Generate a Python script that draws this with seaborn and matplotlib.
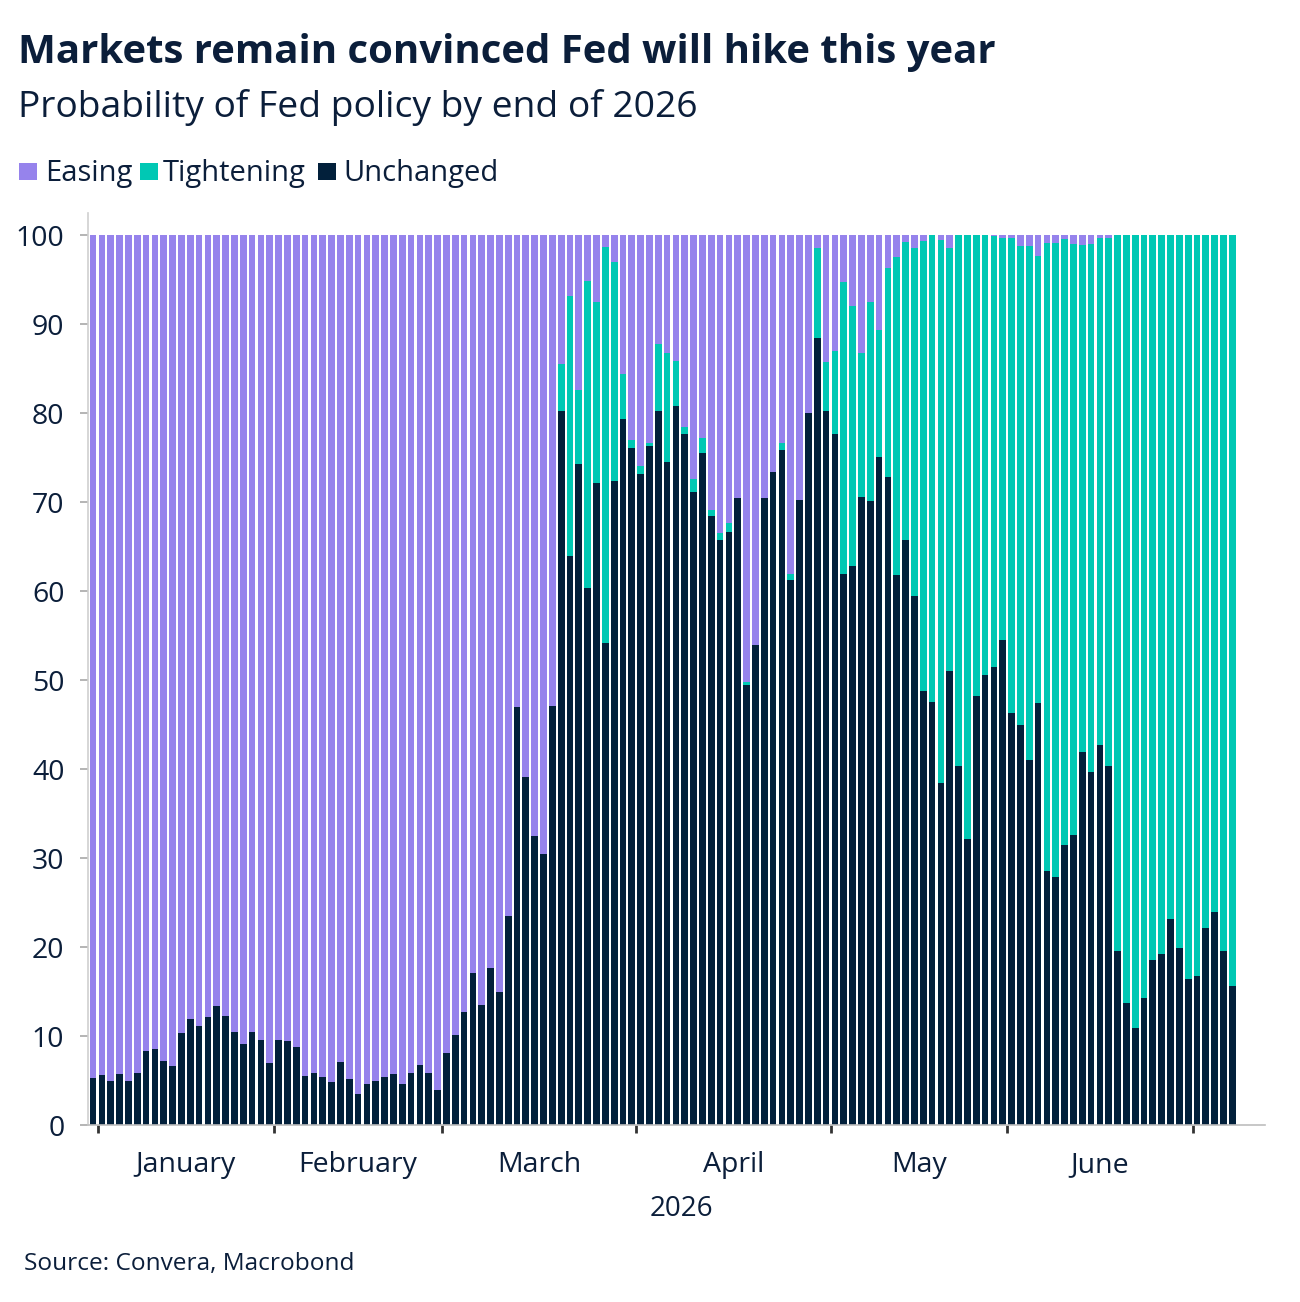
import numpy as np
import pandas as pd
import matplotlib
matplotlib.use("Agg")
import matplotlib.pyplot as plt
from matplotlib.patches import Rectangle
import seaborn as sns

# ---------------- data ----------------
unchanged = [
    5.3, 5.6, 4.9, 5.7, 5.0, 5.8, 8.3, 8.5, 7.2, 6.6,
    10.3, 11.9, 11.1, 12.1, 13.4, 12.3, 10.5, 9.1, 10.5, 9.5,
    7.0, 9.5, 9.4, 8.8, 5.5, 5.9, 5.4, 4.8, 7.1, 5.2,
    3.5, 4.6, 5.0, 5.4, 5.7, 4.6, 5.9, 6.7, 5.9, 3.9,
    8.1, 10.1, 12.7, 17.1, 13.5, 17.6, 14.9, 23.5, 47.0, 39.1,
    32.5, 30.5, 47.1, 80.3, 64.0, 74.3, 60.3, 72.2, 54.2, 72.4,
    79.4, 76.1, 73.2, 76.3, 80.2, 74.5, 80.8, 77.7, 71.1, 75.5,
    68.4, 65.8, 66.6, 70.5, 49.4, 53.9, 70.5, 73.4, 75.9, 61.2,
    70.2, 80.0, 88.5, 80.3, 77.7, 61.9, 62.8, 70.6, 70.1, 75.1,
    72.8, 61.8, 65.7, 59.5, 48.8, 47.5, 38.4, 51.0, 40.3, 32.1,
    48.2, 50.6, 51.5, 54.5, 46.3, 44.9, 41.0, 47.4, 28.5, 27.9,
    31.5, 32.6, 41.9, 39.7, 42.7, 40.3, 19.6, 13.7, 10.9, 14.3,
    18.6, 19.2, 23.1, 19.9, 16.4, 16.8, 22.1, 23.9, 19.5, 15.6,
]
tightening = [
    0, 0, 0, 0, 0, 0, 0, 0, 0, 0,
    0, 0, 0, 0, 0, 0, 0, 0, 0, 0,
    0, 0, 0, 0, 0, 0, 0, 0, 0, 0,
    0, 0, 0, 0, 0, 0, 0, 0, 0, 0,
    0, 0, 0, 0, 0, 0, 0, 0, 0, 0,
    0, 0, 0, 5.2, 29.2, 8.3, 34.6, 20.3, 44.5, 24.6,
    5.0, 0.9, 0.9, 0.4, 7.6, 12.3, 5.1, 0.8, 1.5, 1.7,
    0.7, 0.7, 1.1, 0, 0.4, 0, 0, 0, 0.7, 0.7,
    0, 0, 10.1, 5.4, 9.3, 32.9, 29.3, 16.2, 22.4, 14.3,
    23.5, 35.7, 33.5, 39.1, 50.6, 52.5, 61.1, 47.6, 59.7, 67.9,
    51.8, 49.4, 48.4, 45.2, 53.4, 53.9, 57.8, 50.3, 70.6, 71.2,
    68.1, 66.4, 57.0, 59.3, 57.0, 59.4, 80.4, 86.3, 89.1, 85.7,
    81.4, 80.8, 76.9, 80.1, 83.6, 83.2, 77.9, 76.1, 80.5, 84.4,
]
easing = [
    94.7, 94.4, 95.1, 94.3, 95.0, 94.2, 91.7, 91.5, 92.8, 93.4,
    89.7, 88.1, 88.9, 87.9, 86.6, 87.7, 89.5, 90.9, 89.5, 90.5,
    93.0, 90.5, 90.6, 91.2, 94.5, 94.1, 94.6, 95.2, 92.9, 94.8,
    96.5, 95.4, 95.0, 94.6, 94.3, 95.4, 94.1, 93.3, 94.1, 96.1,
    91.9, 89.9, 87.3, 82.9, 86.5, 82.4, 85.1, 76.5, 53.0, 60.9,
    67.5, 69.5, 52.9, 14.5, 6.8, 17.4, 5.1, 7.5, 1.3, 3.0,
    15.6, 23.0, 25.9, 23.3, 12.2, 13.2, 14.1, 21.5, 27.4, 22.8,
    30.9, 33.5, 32.3, 29.5, 50.2, 46.1, 29.5, 26.6, 23.4, 38.1,
    29.8, 20.0, 1.4, 14.3, 13.0, 5.2, 7.9, 13.2, 7.5, 10.6,
    3.7, 2.5, 0.8, 1.4, 0.6, 0.0, 0.5, 1.4, 0.0, 0.0,
    0.0, 0.0, 0.1, 0.3, 0.3, 1.2, 1.2, 2.3, 0.9, 0.9,
    0.4, 1.0, 1.1, 1.0, 0.3, 0.3, 0.0, 0.0, 0.0, 0.0,
    0.0, 0.0, 0.0, 0.0, 0.0, 0.0, 0.0, 0.0, 0.0, 0.0,
]
# number of trading-day bars in each month (first bar is 31 Dec 2025)
month_labels = ["January", "February", "March", "April", "May", "June"]
month_bar_counts = [20, 19, 22, 22, 20, 21]
y_ticks = [0, 10, 20, 30, 40, 50, 60, 70, 80, 90, 100]
series_labels = ["Easing", "Tightening", "Unchanged"]

# ---------------- style ----------------
PURPLE = "#9683ec"
TEAL = "#00c8b4"
NAVY = "#02203b"
TEXT = "#0b1e3a"
W, H = 1300, 1302

sns.set_style("white")
plt.rcParams["font.family"] = ["Open Sans", "DejaVu Sans"]

n = len(unchanged)
df = pd.DataFrame({
    "pos": np.arange(n),
    "unchanged": unchanged,
    "tightening": tightening,
    "easing": easing,
})
df["top_t"] = df["unchanged"] + df["tightening"]
df["top_e"] = df["top_t"] + df["easing"]

fig = plt.figure(figsize=(W / 100, H / 100), dpi=100)
ax = fig.add_axes([88 / W, 1 - 1125 / H, (1265 - 88) / W, (1125 - 213) / H])

common = dict(x="pos", native_scale=True, width=0.76, linewidth=0,
              saturation=1, errorbar=None, ax=ax)
sns.barplot(data=df, y="top_e", color=PURPLE, **common)
sns.barplot(data=df, y="top_t", color=TEAL, **common)
sns.barplot(data=df, y="unchanged", color=NAVY, **common)

ax.set_xlim(-0.58, 132.7)
ax.set_ylim(0, 102.5)
ax.set_xlabel("")
ax.set_ylabel("")

# y axis
ax.set_yticks(y_ticks)
ax.set_yticklabels([str(v) for v in y_ticks])
ax.tick_params(axis="y", which="major", length=6, width=1.2, color="#a8a8a8",
               labelsize=20.5, labelcolor=TEXT, pad=11, left=True)

# x axis: month boundaries as major ticks, month names centred as minor ticks
bounds = np.concatenate([[0], np.cumsum(month_bar_counts)]) + 0.5
centres = (bounds[:-1] + bounds[1:]) / 2
ax.set_xticks(bounds)
ax.set_xticklabels([])
ax.set_xticks(centres, minor=True)
ax.set_xticklabels(month_labels, minor=True)
ax.tick_params(axis="x", which="major", length=6, width=2, color="#333333",
               bottom=True)
ax.tick_params(axis="x", which="minor", length=0, labelsize=20.5,
               labelcolor=TEXT, pad=19)

for s in ["top", "right"]:
    ax.spines[s].set_visible(False)
ax.spines["left"].set_color("#cfcfcf")
ax.spines["left"].set_linewidth(1.2)
ax.spines["bottom"].set_color("#bdbdbd")
ax.spines["bottom"].set_linewidth(1.2)

# titles
fig.text(18 / W, 1 - 52 / H, "Markets remain convinced Fed will hike this year",
         fontsize=28.9, fontweight="bold", color=TEXT, va="center", ha="left")
fig.text(18 / W, 1 - 108 / H, "Probability of Fed policy by end of 2026",
         fontsize=26.8, color=TEXT, va="center", ha="left")

# legend (squares + labels)
legend_sq_x = [19, 140, 318]
legend_txt_x = [45, 163, 343]
for c, sx, tx, lab in zip((PURPLE, TEAL, NAVY), legend_sq_x, legend_txt_x, series_labels):
    fig.patches.append(Rectangle((sx / W, 1 - 180 / H), 17.5 / W, 17.5 / H,
                                 transform=fig.transFigure, facecolor=c,
                                 edgecolor="none"))
    fig.text(tx / W, 1 - 180.5 / H, lab, fontsize=21, color=TEXT,
             ha="left", va="baseline")

fig.text(681 / W, 1 - 1209 / H, "2026", fontsize=20, color=TEXT,
         ha="center", va="center")
fig.text(24 / W, 1 - 1270 / H, "Source: Convera, Macrobond", fontsize=17.6,
         color=TEXT, ha="left", va="baseline")

fig.savefig("out.png", dpi=100)
